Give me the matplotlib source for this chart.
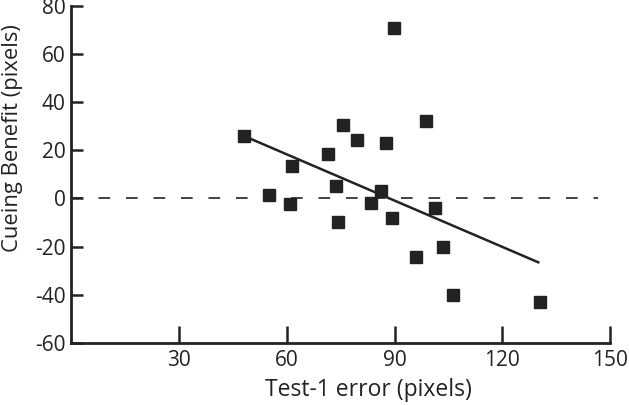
import numpy as np
import matplotlib
matplotlib.use('Agg')
import matplotlib.pyplot as plt

# data
test1_error = [48.0, 55.0, 60.8, 61.5, 71.5, 73.6, 74.3, 75.6, 79.6, 83.4,
               86.3, 87.5, 89.4, 89.8, 95.9, 98.9, 101.3, 103.4, 106.2, 130.5]
cueing_benefit = [26.1, 1.5, -2.5, 13.3, 18.5, 5.0, -9.8, 30.5, 24.4, -1.7,
                  2.9, 23.2, -8.0, 70.8, -24.4, 32.0, -4.0, -20.3, -40.2, -43.0]

# regression line as drawn in the figure
fit_x = [48.0, 130.0]
fit_y = [26.0, -26.5]

x_ticks = [30, 60, 90, 120, 150]
y_ticks = [-60, -40, -20, 0, 20, 40, 60, 80]

plt.rcParams['font.family'] = ['Open Sans', 'DejaVu Sans']
plt.rcParams['axes.unicode_minus'] = False
ink = '#222222'

fig = plt.figure(figsize=(6.29, 4.05), dpi=100)
ax = fig.add_axes([0.113, 0.153, 0.857, 0.833])

# zero reference line
ax.hlines(0, 0, 146.5, colors=ink, linewidth=1.2, linestyles=(0, (7, 9.5)), zorder=1)

ax.plot(fit_x, fit_y, color=ink, linewidth=1.8, zorder=2)
ax.plot(test1_error, cueing_benefit, linestyle='none', marker='s',
        markersize=8.6, color=ink, zorder=3)

ax.set_xlim(0, 150)
ax.set_ylim(-60, 80)
ax.set_xticks(x_ticks)
ax.set_yticks(y_ticks)

for side in ['top', 'right']:
    ax.spines[side].set_visible(False)
for side in ['left', 'bottom']:
    ax.spines[side].set_linewidth(2)
    ax.spines[side].set_color(ink)

ax.tick_params(axis='x', direction='in', length=12, width=1.8, color=ink,
               labelsize=15, labelcolor=ink, pad=5)
ax.tick_params(axis='y', direction='in', length=8.6, width=1.8, color=ink,
               labelsize=15, labelcolor=ink, pad=4)

ax.set_xlabel('Test-1 error (pixels)', fontsize=16.5, color=ink)
ax.set_ylabel('Cueing Benefit (pixels)', fontsize=15.8, color=ink)
ax.xaxis.set_label_coords(0.551, -0.104)
ax.yaxis.set_label_coords(-0.089, 0.608)

fig.savefig('out.png', dpi=100)
